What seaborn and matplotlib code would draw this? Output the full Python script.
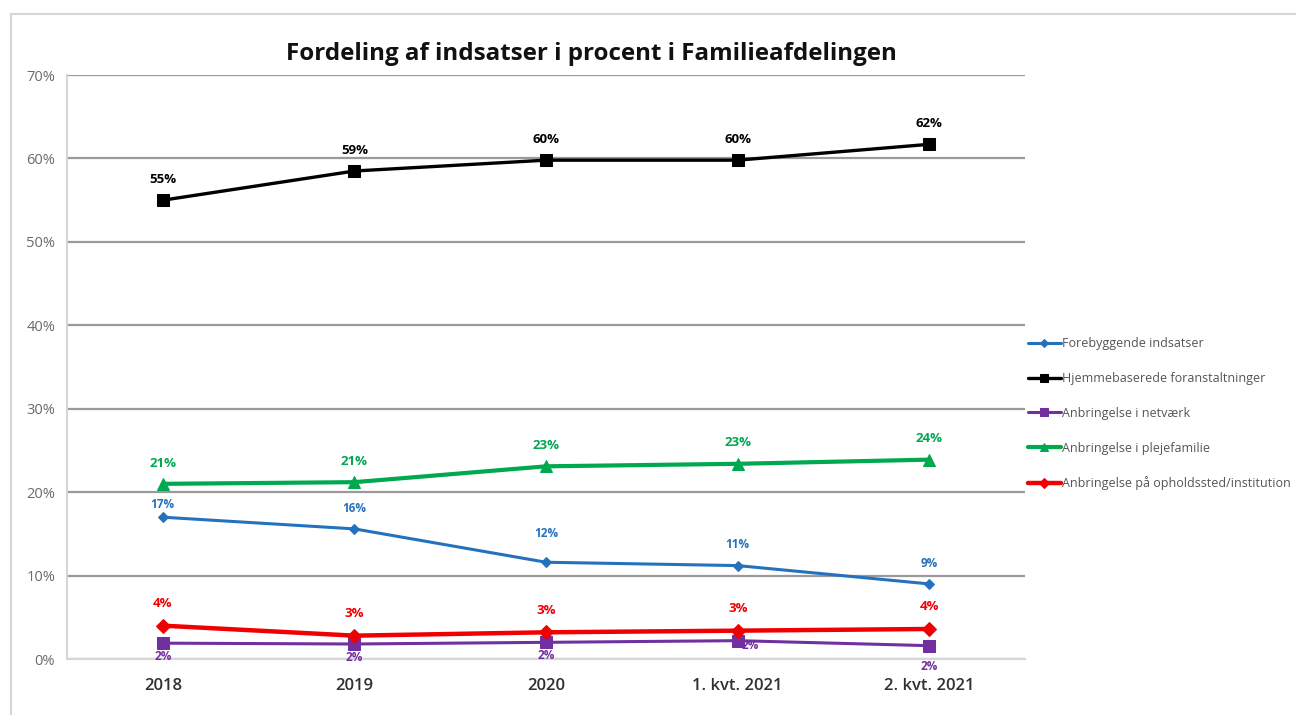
import matplotlib
matplotlib.use("Agg")
import matplotlib.pyplot as plt
import seaborn as sns
import pandas as pd
from matplotlib.patches import Rectangle
from matplotlib.ticker import FuncFormatter

categories = ["2018", "2019", "2020", "1. kvt. 2021", "2. kvt. 2021"]
forebyggende = [17.0, 15.6, 11.6, 11.2, 9.0]
hjemmebaserede = [55.0, 58.5, 59.8, 59.8, 61.7]
netvaerk = [1.9, 1.8, 2.0, 2.2, 1.6]
plejefamilie = [21.0, 21.2, 23.1, 23.4, 23.9]
institution = [4.0, 2.8, 3.2, 3.4, 3.6]

fore_labels = ["17%", "16%", "12%", "11%", "9%"]
hjem_labels = ["55%", "59%", "60%", "60%", "62%"]
net_labels = ["2%", "2%", "2%", "2%", "2%"]
pleje_labels = ["21%", "21%", "23%", "23%", "24%"]
inst_labels = ["4%", "3%", "3%", "3%", "4%"]

series_names = ["Forebyggende indsatser", "Hjemmebaserede foranstaltninger",
                "Anbringelse i netværk", "Anbringelse i plejefamilie",
                "Anbringelse på opholdssted/institution"]
series_values = [forebyggende, hjemmebaserede, netvaerk, plejefamilie, institution]
series_labels = [fore_labels, hjem_labels, net_labels, pleje_labels, inst_labels]
colors = ["#2472BE", "#000000", "#7030A0", "#00A850", "#F00000"]
markers = ["D", "s", "s", "^", "D"]
msizes = [5, 8, 8, 8, 7]
lwidths = [2.2, 2.4, 2.2, 3.0, 3.2]
lab_size = [8.5, 9.5, 8.5, 9.5, 9.5]
# label offsets in points (dx, dy)
offsets = [
    [(0, 9), (0, 15), (0, 21), (0, 15), (0, 15)],
    [(0, 15)] * 5,
    [(0, -9.5), (0, -9.5), (0, -9.5), (9, -3.6), (0, -15)],
    [(0, 15)] * 5,
    [(0, 16)] * 5,
]

rows = []
for name, vals in zip(series_names, series_values):
    for i, (c, v) in enumerate(zip(categories, vals)):
        rows.append({"kategori": c, "pos": i, "serie": name, "værdi": v})
df = pd.DataFrame(rows)

sns.set_theme(style="white")
plt.rcParams["font.family"] = ["Open Sans", "DejaVu Sans"]

fig = plt.figure(figsize=(12.96, 7.15), dpi=100)
ax = fig.add_axes([0.0517, 0.0783, 0.7393, 0.8167])

# outer frame
fig.patches.append(Rectangle((11 / 1296, -0.05), 1.2, 1 - 14 / 715 + 0.05,
                             transform=fig.transFigure, fill=False,
                             edgecolor="#d6d6d6", linewidth=1.5, zorder=0))

for k, name in enumerate(series_names):
    sub = df[df["serie"] == name]
    sns.lineplot(data=sub, x="pos", y="værdi", ax=ax, color=colors[k],
                 marker=markers[k], markersize=msizes[k], linewidth=lwidths[k],
                 markeredgecolor=colors[k], label=name, zorder=3 + (1 if k == 1 else 0))
    for i, v in enumerate(series_values[k]):
        dx, dy = offsets[k][i]
        ax.annotate(series_labels[k][i], (i, v), xytext=(dx, dy),
                    textcoords="offset points", ha="center", va="center",
                    fontsize=lab_size[k], fontweight="bold", color=colors[k], zorder=6)

ax.set_xlim(-0.5, 4.5)
ax.set_ylim(0, 70)
ax.set_yticks(range(0, 71, 10))
ax.yaxis.set_major_formatter(FuncFormatter(lambda v, p: f"{int(v)}%"))
ax.set_xticks(range(len(categories)))
ax.set_xticklabels(categories)
ax.tick_params(axis="y", labelsize=10.5, labelcolor="#6a6a6a", length=0, pad=8.5)
ax.tick_params(axis="x", labelsize=12, labelcolor="#303030", length=0, pad=14)
for lbl in ax.get_xticklabels():
    lbl.set_fontweight("semibold")
ax.set_xlabel("")
ax.set_ylabel("")
ax.grid(axis="y", color="#9a9a9a", linewidth=1.6)
ax.grid(axis="x", visible=False)
for s in ["top", "right"]:
    ax.spines[s].set_visible(False)
ax.spines["left"].set_color("#d6d6d6")
ax.spines["left"].set_linewidth(1.5)
ax.spines["bottom"].set_color("#d6d6d6")
ax.spines["bottom"].set_linewidth(1.5)

fig.text(0.456, 0.925, "Fordeling af indsatser i procent i Familieafdelingen",
         ha="center", va="center", fontsize=17.4, fontweight="bold", color="#111111")

leg = ax.legend(loc="center left", bbox_to_anchor=(0.998, 0.42), frameon=False,
                fontsize=9, labelspacing=1.75, handlelength=2.6, handletextpad=0.1,
                borderaxespad=0, markerscale=0.75)
for t in leg.get_texts():
    t.set_color("#555555")

fig.savefig("out.png", dpi=100)
